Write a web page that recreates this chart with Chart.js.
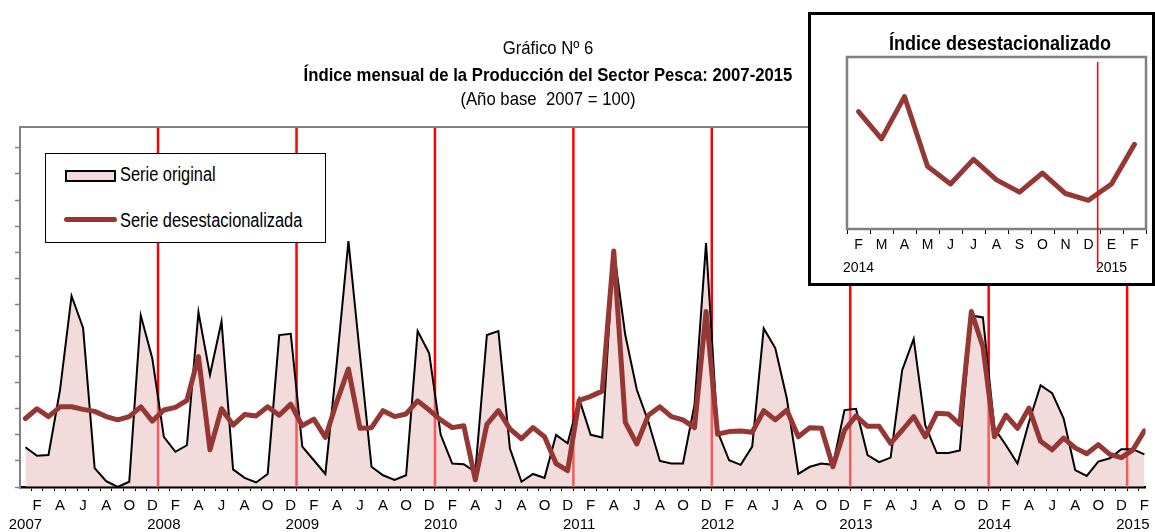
<!DOCTYPE html>
<html lang="es">
<head>
<meta charset="UTF-8">
<title>Gráfico Nº 6</title>
<script src="https://cdn.jsdelivr.net/npm/chart.js@4.4.1/dist/chart.umd.min.js"></script>
<style>
  body { margin: 0; background: #fff; }
  .page { position: relative; width: 1155px; height: 532px; overflow: hidden;
          font-family: 'Liberation Sans', Arial, sans-serif; color: #000; }
  .page canvas { position: absolute; }
  /* Arial Narrow look: Arial squeezed horizontally */
  .ttl { position: absolute; left: 200px; width: 696px; text-align: center; font-size: 19px; line-height: 22px;
         white-space: nowrap; transform: scaleX(0.88); }
  .legend-box { position: absolute; left: 45px; top: 153px; width: 281px; height: 90px; border: 1px solid #000; background: #fff; box-sizing: border-box; }
  .sw-area { position: absolute; left: 65px; top: 170px; width: 51px; height: 12px; border: 2px solid #000; background: #f2dcdb; box-sizing: border-box; }
  .sw-line { position: absolute; left: 64px; top: 217px; width: 53px; height: 5px; border-radius: 3px; background: #953735; }
  .lg-txt { position: absolute; left: 120px; font-size: 20px; line-height: 20px; white-space: nowrap;
            transform: scaleX(0.82); transform-origin: left center; }
  .inset { position: absolute; left: 808px; top: 12px; width: 347px; height: 274px; border: 3px solid #000; background: #fff; box-sizing: border-box; }
  .inset-ttl { position: absolute; left: 850px; top: 33px; width: 300px; text-align: center; font-size: 20px; line-height: 20px;
               font-weight: bold; white-space: nowrap; transform: scaleX(0.9); }
</style>
</head>
<body>
<div class="page">
  <canvas id="main" width="1155" height="532" style="left:0;top:0"></canvas>

  <div class="ttl" style="top:37px">Gráfico Nº 6</div>
  <div class="ttl" style="top:64px;font-weight:bold">Índice mensual de la Producción del Sector Pesca: 2007-2015</div>
  <div class="ttl" style="top:88px">(Año base&nbsp; 2007 = 100)</div>

  <div class="legend-box"></div>
  <div class="sw-area"></div>
  <div class="lg-txt" style="top:164px">Serie original</div>
  <div class="sw-line"></div>
  <div class="lg-txt" style="top:210px">Serie desestacionalizada</div>

  <div class="inset"></div>
  <canvas id="inset" width="341" height="268" style="left:811px;top:15px"></canvas>
  <div class="inset-ttl">Índice desestacionalizado</div>
</div>

<script>
// months from Jan 2007 to Feb 2015
const monthLetters = ['E', 'F', 'M', 'A', 'M', 'J', 'J', 'A', 'S', 'O', 'N', 'D'];
const years = ['2007', '2008', '2009', '2010', '2011', '2012', '2013', '2014', '2015'];

const original = [
  61, 48, 49, 149, 293, 244, 29, 9, 0, 8, 263, 197,
  77, 54, 64, 268, 172, 254, 27, 14, 7, 20, 233, 235,
  62, 41, 20, 192, 377, 202, 31, 18, 11, 18, 239, 205,
  80, 36, 35, 23, 233, 239, 59, 8, 20, 14, 80, 67,
  135, 80, 76, 364, 233, 149, 100, 40, 36, 36, 126, 374,
  85, 41, 34, 62, 243, 213, 136, 20, 31, 36, 34, 118,
  120, 49, 38, 45, 179, 227, 95, 52, 52, 56, 263, 260,
  90, 64, 36, 100, 156, 144, 105, 26, 17, 39, 44, 58,
  58, 50
];

const desest = [
  105, 120, 108, 123, 123, 119, 116, 108, 103, 108, 123, 101,
  118, 122, 133, 200, 57, 120, 95, 111, 109, 123, 110, 127,
  94, 104, 76, 131, 181, 90, 91, 117, 108, 112, 132, 118,
  103, 91, 94, 11, 96, 117, 89, 74, 91, 77, 36, 25,
  133, 139, 147, 362, 99, 66, 110, 123, 108, 103, 91, 269,
  81, 85, 86, 84, 117, 103, 118, 77, 91, 90, 31, 87,
  109, 93, 93, 67, 87, 108, 77, 113, 112, 96, 269, 215,
  77, 110, 90, 121, 70, 57, 75, 60, 51, 65, 50, 45,
  57, 86
];

// inset: last 13 months (Feb 2014 - Feb 2015)
const insetMonths = ['F', 'M', 'A', 'M', 'J', 'J', 'A', 'S', 'O', 'N', 'D', 'E', 'F'];
const insetYears = {0: '2014', 11: '2015'};

Chart.defaults.font.family = "'Liberation Sans', Arial, sans-serif";
Chart.defaults.color = '#000';

const yearBreaks = years.slice(1).map((y, k) => 12 * (k + 1) - 0.5);

const mainDecor = {
  id: 'mainDecor',
  beforeDatasetsDraw(chart) {
    const {ctx, chartArea: a, scales: {x}} = chart;
    ctx.save();
    ctx.strokeStyle = '#ff0000';
    ctx.lineWidth = 2.5;
    yearBreaks.forEach(b => {
      const px = x.getPixelForValue(b);
      ctx.beginPath();
      ctx.moveTo(px, a.top);
      ctx.lineTo(px, a.bottom);
      ctx.stroke();
    });
    ctx.strokeStyle = '#808080';
    ctx.lineWidth = 2;
    ctx.beginPath();
    ctx.moveTo(a.left - 1, a.top);
    ctx.lineTo(a.right + 10, a.top);
    ctx.stroke();
    ctx.restore();
  }
};

new Chart(document.getElementById('main'), {
  type: 'line',
  data: {
    datasets: [{
      label: 'Serie desestacionalizada',
      data: desest.map((v, i) => ({x: i, y: v})),
      borderColor: '#953735',
      borderWidth: 5,
      borderJoinStyle: 'round',
      borderCapStyle: 'round',
      fill: false,
      order: 0
    }, {
      label: 'Serie original',
      data: original.map((v, i) => ({x: i, y: v})),
      borderColor: '#000',
      borderWidth: 2,
      backgroundColor: 'rgba(230, 184, 183, 0.5)',
      fill: 'origin',
      order: 1
    }]
  },
  options: {
    responsive: false,
    animation: false,
    events: [],
    elements: { point: { radius: 0 }, line: { tension: 0 } },
    layout: { padding: { left: 15, right: 3, top: 127, bottom: 0 } },
    plugins: { legend: { display: false }, tooltip: { enabled: false } },
    scales: {
      x: {
        type: 'linear',
        min: -0.47,
        max: 97.1,
        afterBuildTicks: s => {
          s.ticks = [];
          for (let v = 0; v <= 97; v += 0.5) s.ticks.push({value: v});
        },
        afterFit: s => { s.height = 45; },
        grid: {
          drawOnChartArea: false,
          tickLength: 4,
          tickWidth: 1,
          tickColor: c => Number.isInteger(c.tick.value) ? 'rgba(0,0,0,0)' : '#000'
        },
        border: { color: '#000', width: 2.5 },
        ticks: {
          autoSkip: false,
          maxRotation: 0,
          padding: 6,
          font: { size: 15, lineHeight: 1.22 },
          callback: v => {
            if (!Number.isInteger(v)) return '';
            const m = v % 12;
            if (m === 0) return ['', years[v / 12]];
            return m % 2 === 1 ? monthLetters[m] : '';
          }
        }
      },
      y: {
        min: 0,
        max: 552,
        afterBuildTicks: s => {
          s.ticks = [];
          for (let v = 0; v <= 520; v += 40) s.ticks.push({value: v});
        },
        afterFit: s => { s.width = 5; },
        grid: { drawOnChartArea: false, tickLength: 5, tickColor: '#808080', tickWidth: 1.5 },
        border: { color: '#808080', width: 2 },
        ticks: { display: false }
      }
    }
  },
  plugins: [mainDecor]
});

const insetDecor = {
  id: 'insetDecor',
  afterDatasetsDraw(chart) {
    const {ctx, chartArea: a, scales: {x}} = chart;
    ctx.save();
    ctx.strokeStyle = '#808080';
    ctx.lineWidth = 2.5;
    ctx.strokeRect(a.left, a.top, a.right - a.left, a.bottom - a.top);
    const px = x.getPixelForValue(10.4);
    ctx.strokeStyle = '#ff0000';
    ctx.lineWidth = 1.5;
    ctx.beginPath();
    ctx.moveTo(px, a.top + 5);
    ctx.lineTo(px, a.bottom + 39);
    ctx.stroke();
    ctx.restore();
  }
};

new Chart(document.getElementById('inset'), {
  type: 'line',
  data: {
    labels: insetMonths.map((m, k) => insetYears[k] ? [m, insetYears[k]] : m),
    datasets: [{
      data: desest.slice(-13),
      borderColor: '#953735',
      borderWidth: 5,
      borderJoinStyle: 'round',
      borderCapStyle: 'round',
      pointRadius: 0,
      fill: false
    }]
  },
  options: {
    responsive: false,
    animation: false,
    events: [],
    layout: { padding: { left: 36, right: 6, top: 42, bottom: 0 } },
    plugins: { legend: { display: false }, tooltip: { enabled: false } },
    scales: {
      x: {
        offset: true,
        afterFit: s => { s.height = 54; },
        grid: { offset: true, drawOnChartArea: false, tickLength: 5, color: '#000' },
        border: { display: false },
        ticks: {
          autoSkip: false,
          maxRotation: 0,
          padding: 0,
          font: { size: 14, lineHeight: 1.64 }
        }
      },
      y: { display: false, min: 24, max: 150 }
    }
  },
  plugins: [insetDecor]
});
</script>
</body>
</html>
